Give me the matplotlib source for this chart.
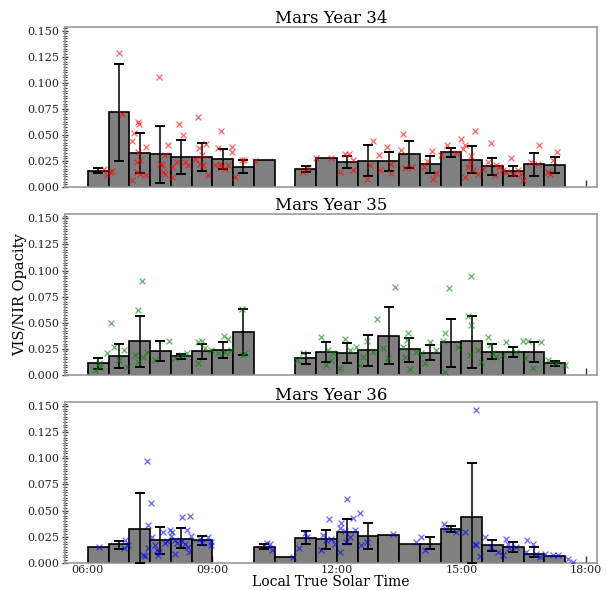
import numpy as np
import matplotlib
matplotlib.use("Agg")
import matplotlib.pyplot as plt
from matplotlib.ticker import MultipleLocator, FixedLocator

plt.rcParams['font.family'] = ['DejaVu Serif']

nan = np.nan
years = ["Mars Year 34", "Mars Year 35", "Mars Year 36"]
colors = ["red", "green", "blue"]
xtick_hours = [6, 9, 12, 15, 18]
xtick_labels = ["06:00", "09:00", "12:00", "15:00", "18:00"]

# ---- Mars Year 34 ----
my34_bin_start = [6.0, 6.5, 7.0, 7.5, 8.0, 8.5, 9.0, 9.5, 10.0,
                  11.0, 11.5, 12.0, 12.5, 13.0, 13.5, 14.0, 14.5, 15.0, 15.5, 16.0, 16.5, 17.0]
my34_mean = [0.0156, 0.0718, 0.0329, 0.0313, 0.0287, 0.0287, 0.0270, 0.0195, 0.0255,
             0.0172, 0.0278, 0.0240, 0.0252, 0.0246, 0.0313, 0.0217, 0.0335, 0.0259, 0.0201, 0.0153, 0.0220, 0.0210]
my34_hi = [0.018, 0.118, 0.0517, 0.0587, 0.045, 0.042, 0.0367, 0.0259, nan,
           0.0198, nan, 0.030, 0.040, 0.0335, 0.0437, 0.030, 0.0377, 0.039, 0.0278, 0.0204, 0.0329, 0.029]
my34_lo = [0.0128, 0.025, 0.0137, 0.0038, 0.0121, 0.015, 0.0172, 0.0134, nan,
           0.014, nan, 0.0176, 0.010, 0.015, 0.0176, 0.0128, 0.029, 0.0128, 0.0115, 0.010, 0.010, 0.0128]
my34_pt_time = [6.76, 7.72, 6.82, 8.66, 7.22, 7.24, 8.20, 9.22, 8.29, 7.12, 7.06, 7.94, 7.40, 8.85, 9.13,
                9.47, 9.47, 8.68, 8.74, 7.21, 7.86, 7.18, 7.26, 8.34, 7.78, 7.74, 8.58, 8.70, 8.78, 9.18,
                9.30, 9.22, 9.38, 9.71, 10.03, 9.77, 9.55, 9.07, 8.90, 8.42, 8.02, 8.02, 8.14, 7.86, 7.80,
                7.18, 7.26, 7.40, 7.06, 6.54, 6.58, 6.38, 6.46,
                11.19, 11.31, 11.50, 11.85, 12.19, 12.30, 12.07, 12.39, 12.39, 12.88, 12.80, 12.72, 13.01,
                13.22, 13.30, 13.30, 13.04, 13.60, 13.54, 13.64, 13.80, 14.10, 14.30, 14.18, 14.40, 14.32,
                14.52, 14.66, 14.88, 14.99, 15.08, 15.04, 15.32, 15.24, 15.20, 15.16, 15.28, 15.08, 15.40,
                15.52, 15.72, 15.64, 15.84, 15.92, 15.80, 16.00, 16.20, 16.08, 16.24, 16.37, 16.45, 16.49,
                16.87, 16.69, 16.85, 17.09, 17.21, 17.30, 17.13]
my34_pt_value = [0.129, 0.105, 0.0704, 0.0669, 0.0624, 0.0604, 0.0604, 0.0534, 0.0502, 0.052, 0.044, 0.040,
                 0.038, 0.0415, 0.0373, 0.0383, 0.0335, 0.0368, 0.0303, 0.0335, 0.031, 0.0239, 0.0255, 0.0239,
                 0.0213, 0.0217, 0.027, 0.0223, 0.021, 0.0223, 0.0175, 0.019, 0.0207, 0.0255, 0.0248, 0.0255,
                 0.0095, 0.0207, 0.011, 0.0213, 0.019, 0.0095, 0.024, 0.0127, 0.0143, 0.0143, 0.0127, 0.0117,
                 0.0063, 0.0143, 0.0149, 0.0175, 0.011,
                 0.0143, 0.0185, 0.0281, 0.0281, 0.0313, 0.0313, 0.0143, 0.0255, 0.0159, 0.0441, 0.0207,
                 0.0079, 0.031, 0.0383, 0.0223, 0.0137, 0.0159, 0.0505, 0.0351, 0.0181, 0.0188, 0.0188,
                 0.0345, 0.0249, 0.0137, 0.0079, 0.0303, 0.040, 0.032, 0.0457, 0.040, 0.0361, 0.0537,
                 0.0297, 0.0239, 0.0188, 0.0159, 0.0094, 0.0127, 0.0175, 0.0422, 0.0239, 0.0207, 0.0188,
                 0.0111, 0.0159, 0.0281, 0.0143, 0.0127, 0.0159, 0.0124, 0.0063, 0.040, 0.0239, 0.0223,
                 0.0143, 0.0255, 0.0335, 0.0127]

# ---- Mars Year 35 ----
my35_bin_start = [6.0, 6.5, 7.0, 7.5, 8.0, 8.5, 9.0, 9.5,
                  11.0, 11.5, 12.0, 12.5, 13.0, 13.5, 14.0, 14.5, 15.0, 15.5, 16.0, 16.5, 17.0]
my35_mean = [0.0112, 0.0185, 0.0323, 0.0230, 0.0179, 0.0233, 0.0236, 0.0416,
             0.0160, 0.0224, 0.0214, 0.0240, 0.0374, 0.0246, 0.0214, 0.0314, 0.0326, 0.0224, 0.0224, 0.0224, 0.0112]
my35_hi = [0.016, 0.0298, 0.0569, 0.0326, 0.0204, 0.030, 0.0317, 0.063,
           0.0211, 0.0314, 0.031, 0.0387, 0.065, 0.0358, 0.0288, 0.0534, 0.0569, 0.0298, 0.0272, 0.032, 0.0137]
my35_lo = [0.0058, 0.007, 0.0074, 0.0131, 0.0154, 0.0157, 0.016, 0.0192,
           0.0102, 0.0128, 0.0118, 0.0086, 0.0102, 0.0128, 0.0144, 0.008, 0.007, 0.0154, 0.017, 0.0122, 0.0086]
my35_pt_time = [7.30, 7.22, 6.55, 9.72, 7.96, 9.28, 9.38, 8.74, 8.66, 6.88, 6.64, 6.46, 6.26, 6.30, 6.18,
                6.74, 6.94, 7.14, 7.34, 7.42, 7.22, 7.62, 8.26, 8.10, 8.38, 8.66, 8.82, 8.98, 9.14, 9.30,
                9.46, 9.74, 9.79,
                13.40, 14.70, 15.24, 12.97, 15.16, 15.24, 14.60, 14.56, 11.63, 12.19, 13.72, 13.68, 12.72,
                14.24, 15.64, 15.68, 16.08, 16.49, 16.61, 16.93, 11.19, 11.03, 11.79, 11.87, 11.75, 12.07,
                11.91, 12.31, 12.47, 12.63, 12.55, 12.88, 13.12, 13.24, 13.60, 13.64, 13.76, 14.04, 14.12,
                14.40, 14.60, 14.92, 15.20, 15.40, 15.48, 15.76, 15.84, 16.00, 16.33, 16.53, 16.73, 17.09,
                17.29, 17.49, 13.92]
my35_pt_value = [0.0902, 0.0624, 0.0496, 0.0633, 0.0326, 0.0377, 0.0345, 0.033, 0.0314, 0.024, 0.0272,
                 0.0208, 0.0112, 0.008, 0.0048, 0.0144, 0.0074, 0.0192, 0.0176, 0.0224, 0.0128, 0.0144,
                 0.0192, 0.016, 0.0208, 0.0112, 0.0256, 0.024, 0.0208, 0.0224, 0.024, 0.0192, 0.0208,
                 0.0841, 0.0832, 0.0944, 0.0537, 0.056, 0.048, 0.040, 0.0323, 0.0368, 0.034, 0.040, 0.0336,
                 0.0323, 0.0314, 0.0368, 0.0288, 0.0314, 0.0323, 0.0323, 0.0317, 0.0214, 0.0144, 0.024,
                 0.0144, 0.0096, 0.0064, 0.0208, 0.024, 0.0272, 0.0176, 0.0096, 0.0224, 0.0256, 0.016,
                 0.0272, 0.0176, 0.0054, 0.0208, 0.0112, 0.024, 0.003, 0.0272, 0.0192, 0.024, 0.0128,
                 0.0208, 0.0176, 0.0192, 0.0224, 0.016, 0.0064, 0.0144, 0.0112, 0.0096, 0.0224]

# ---- Mars Year 36 ----
my36_bin_start = [6.0, 6.5, 7.0, 7.5, 8.0, 8.5, 10.0, 10.5,
                  11.0, 11.5, 12.0, 12.5, 13.0, 13.5, 14.0, 14.5, 15.0, 15.5, 16.0, 16.5, 17.0]
my36_mean = [0.0152, 0.0175, 0.0325, 0.0216, 0.0232, 0.0216, 0.0150, 0.0058,
             0.0239, 0.0223, 0.0296, 0.0255, 0.0264, 0.0184, 0.0184, 0.0322, 0.0438, 0.0165, 0.0152, 0.0088, 0.0063]
my36_hi = [nan, 0.0207, 0.0668, 0.0338, 0.0332, 0.0255, 0.0179, nan,
           0.0303, 0.0313, 0.0418, 0.0377, nan, nan, 0.0242, 0.0351, 0.0954, 0.0216, 0.0194, 0.0152, nan]
my36_lo = [nan, 0.0133, 0.0, 0.0088, 0.0137, 0.0165, 0.0128, nan,
           0.0178, 0.0133, 0.0178, 0.0127, nan, nan, 0.013, 0.0293, 0.0, 0.011, 0.0104, 0.0056, nan]
my36_pt_time = [7.42, 7.52, 8.26, 8.46, 7.44, 6.26, 6.90, 6.86, 6.96, 7.54, 7.46, 7.34, 7.38, 7.66, 7.62,
                7.72, 7.70, 7.82, 7.90, 7.86, 7.98, 8.04, 8.00, 8.10, 8.14, 8.10, 8.26, 8.34, 8.42, 8.38,
                8.49, 8.44, 8.70, 8.74, 8.90, 8.98, 8.98, 10.31, 10.39, 10.45,
                15.36, 12.25, 12.57, 12.39, 11.82, 12.10, 12.07, 12.19, 12.43, 12.31, 12.23, 12.72, 12.59,
                11.67, 11.75, 11.63, 11.87, 11.95, 12.07, 11.23, 11.27, 11.09, 10.95, 13.36, 13.92, 14.02,
                14.12, 14.58, 14.64, 14.88, 15.08, 15.32, 15.36, 15.46, 15.56, 15.72, 15.88, 16.00, 16.07,
                16.12, 16.16, 16.33, 16.58, 16.73, 16.57, 16.81, 16.89, 17.01, 17.21, 17.33, 17.57, 17.69]
my36_pt_value = [0.0979, 0.0575, 0.044, 0.045, 0.036, 0.0152, 0.0216, 0.0137, 0.0166, 0.0242, 0.0137,
                 0.0072, 0.0063, 0.0117, 0.0166, 0.0101, 0.0072, 0.0296, 0.0206, 0.0185, 0.031, 0.0296,
                 0.0255, 0.0222, 0.0185, 0.0088, 0.0206, 0.0176, 0.0154, 0.031, 0.0255, 0.0101, 0.0232,
                 0.0185, 0.0242, 0.0166, 0.0196, 0.0185, 0.0176, 0.0122,
                 0.146, 0.0608, 0.0473, 0.0425, 0.0423, 0.0383, 0.0329, 0.0306, 0.0312, 0.0248, 0.0200,
                 0.0200, 0.0169, 0.0264, 0.0216, 0.012, 0.0232, 0.0184, 0.0104, 0.0287, 0.0248, 0.0137,
                 0.0056, 0.0271, 0.0197, 0.0248, 0.012, 0.037, 0.0319, 0.0297, 0.0297, 0.0184, 0.0168,
                 0.0062, 0.0248, 0.0152, 0.0104, 0.0072, 0.0232, 0.0184, 0.0137, 0.0152, 0.0216, 0.0184,
                 0.0104, 0.0088, 0.0056, 0.0088, 0.0072, 0.0072, 0.0040, 0.0008]

panels = [
    (my34_bin_start, my34_mean, my34_hi, my34_lo, my34_pt_time, my34_pt_value),
    (my35_bin_start, my35_mean, my35_hi, my35_lo, my35_pt_time, my35_pt_value),
    (my36_bin_start, my36_mean, my36_hi, my36_lo, my36_pt_time, my36_pt_value),
]

W, H = 606, 590
fig = plt.figure(figsize=(W / 100, H / 100), dpi=100)
left_px, right_px = 65, 597
tops_px = [26.7, 214.3, 402.3]
bots_px = [186.8, 375.0, 562.7]
bin_width = 0.5
spine_col = "#9a9a9a"

for i, (bs, mn, hi, lo, pt, pv) in enumerate(panels):
    ax = fig.add_axes([left_px / W, 1 - bots_px[i] / H,
                       (right_px - left_px) / W, (bots_px[i] - tops_px[i]) / H])
    bs = np.array(bs); mn = np.array(mn); hi = np.array(hi); lo = np.array(lo)
    centers = bs + bin_width / 2
    ax.bar(centers, mn, width=bin_width, color="#808080", edgecolor="black",
           linewidth=1.2, zorder=2)
    m = ~np.isnan(hi)
    ax.errorbar(centers[m], mn[m], yerr=[mn[m] - lo[m], hi[m] - mn[m]], fmt="none",
                ecolor="black", elinewidth=1.1, capsize=3.3, capthick=1.4, zorder=3)
    ax.scatter(pt, pv, marker="x", s=18, color=colors[i], alpha=0.6,
               linewidths=0.9, zorder=4)
    ax.set_xlim(5.45, 18.27)
    ax.set_ylim(0, 0.1538)
    ax.yaxis.set_major_locator(FixedLocator([0, 0.025, 0.05, 0.075, 0.1, 0.125, 0.15]))
    ax.yaxis.set_major_formatter(matplotlib.ticker.FormatStrFormatter("%.3f"))
    ax.yaxis.set_minor_locator(MultipleLocator(0.0025))
    ax.set_xticks(xtick_hours)
    if i == 2:
        ax.set_xticklabels(xtick_labels)
    else:
        ax.set_xticklabels([])
    ax.tick_params(axis="y", which="major", direction="inout", length=5, width=1.0,
                   labelsize=8, color="#333333", pad=2)
    ax.tick_params(axis="y", which="minor", direction="inout", length=2.5, width=0.8,
                   color="#333333")
    ax.tick_params(axis="x", which="major", direction="in", length=5, width=1.0,
                   labelsize=8, color="#333333", pad=2)
    ax.tick_params(axis="x", which="minor", bottom=False)
    ax.tick_params(labelcolor="#222222")
    for s in ax.spines.values():
        s.set_color(spine_col)
        s.set_linewidth(1.2)
    ax.set_title(years[i], fontsize=12, pad=2)

fig.text(20 / W, 0.5, "VIS/NIR Opacity", rotation=90, ha="center", va="center", fontsize=10.5)
fig.text(331 / W, 1 - 582 / H, "Local True Solar Time", ha="center", va="center", fontsize=10)

fig.savefig("out.png", dpi=100)
